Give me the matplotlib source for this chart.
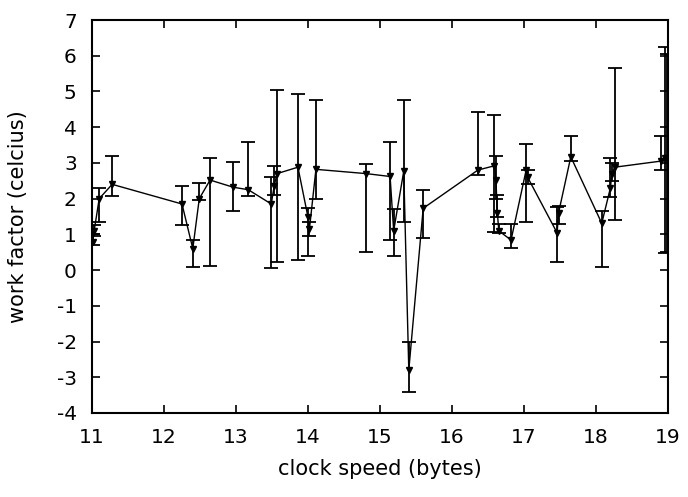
import matplotlib
matplotlib.use("Agg")
import matplotlib.pyplot as plt

plt.rcParams["font.family"] = ["DejaVu Sans"]
plt.rcParams["axes.unicode_minus"] = False

# clock speed (bytes)
speed = [11.01, 11.03, 11.10, 11.28, 12.25, 12.40, 12.49, 12.64, 12.96, 13.17,
         13.49, 13.53, 13.57, 13.86, 14.00, 14.02, 14.11, 14.81, 15.14, 15.19,
         15.33, 15.40, 15.60, 16.36, 16.59, 16.61, 16.63, 16.65, 16.82, 17.03,
         17.05, 17.46, 17.48, 17.65, 18.08, 18.20, 18.22, 18.26, 18.90, 18.96,
         18.98]
# work factor (celcius)
work = [0.80, 1.10, 2.00, 2.40, 1.85, 0.60, 2.00, 2.52, 2.32, 2.25,
        1.85, 2.35, 2.70, 2.88, 1.48, 1.15, 2.82, 2.70, 2.62, 1.10,
        2.77, -2.80, 1.73, 2.80, 2.92, 2.52, 1.60, 1.10, 0.84, 2.80,
        2.60, 1.04, 1.60, 3.17, 1.31, 2.30, 2.70, 2.88, 3.05, 3.15,
        3.15]
work_lo = [0.70, 0.95, 1.35, 2.07, 1.25, 0.08, 1.95, 0.12, 1.65, 2.07,
           0.05, 2.10, 0.22, 0.28, 0.40, 0.95, 2.00, 0.50, 0.84, 0.39,
           1.34, -3.40, 0.90, 2.66, 1.07, 2.00, 1.50, 1.05, 0.62, 1.35,
           2.40, 0.23, 1.30, 3.05, 0.09, 2.05, 2.50, 1.40, 2.80, 0.48,
           0.50]
work_hi = [1.00, 1.25, 2.30, 3.20, 2.35, 0.85, 2.45, 3.13, 3.03, 3.58,
           2.60, 2.90, 5.04, 4.93, 1.75, 1.35, 4.77, 2.96, 3.58, 1.70,
           4.76, -2.00, 2.25, 4.43, 4.33, 3.20, 2.10, 1.30, 1.29, 3.53,
           2.80, 1.77, 1.80, 3.75, 1.65, 3.15, 3.00, 5.65, 3.75, 6.25,
           6.05]

yerr = [[w - lo for w, lo in zip(work, work_lo)],
        [hi - w for w, hi in zip(work, work_hi)]]

fig = plt.figure(figsize=(6.88, 4.97), dpi=100)
ax = fig.add_axes([92 / 688, 84 / 497, 576 / 688, 393 / 497])

ax.errorbar(speed, work, yerr=yerr, color="black", lw=1.0, elinewidth=1.3,
            capsize=5, capthick=1.3, marker="v", ms=4, mfc="black", mec="black")

ax.set_xlim(11, 19)
ax.set_ylim(-4, 7)
ax.set_xticks(range(11, 20))
ax.set_yticks(range(-4, 8))
ax.tick_params(direction="in", top=True, right=True, length=6, width=1.2,
               labelsize=14.5)
ax.tick_params(axis="y", pad=11)
ax.tick_params(axis="x", pad=11)
for s in ax.spines.values():
    s.set_linewidth(1.5)

ax.set_xlabel("clock speed (bytes)", fontsize=15, va="center")
ax.set_ylabel("work factor (celcius)", fontsize=15, va="center")
ax.xaxis.set_label_coords(0.5, (413 - 469) / 393)
ax.yaxis.set_label_coords((18 - 92) / 576, 0.5)

fig.savefig("out.png", dpi=100)
